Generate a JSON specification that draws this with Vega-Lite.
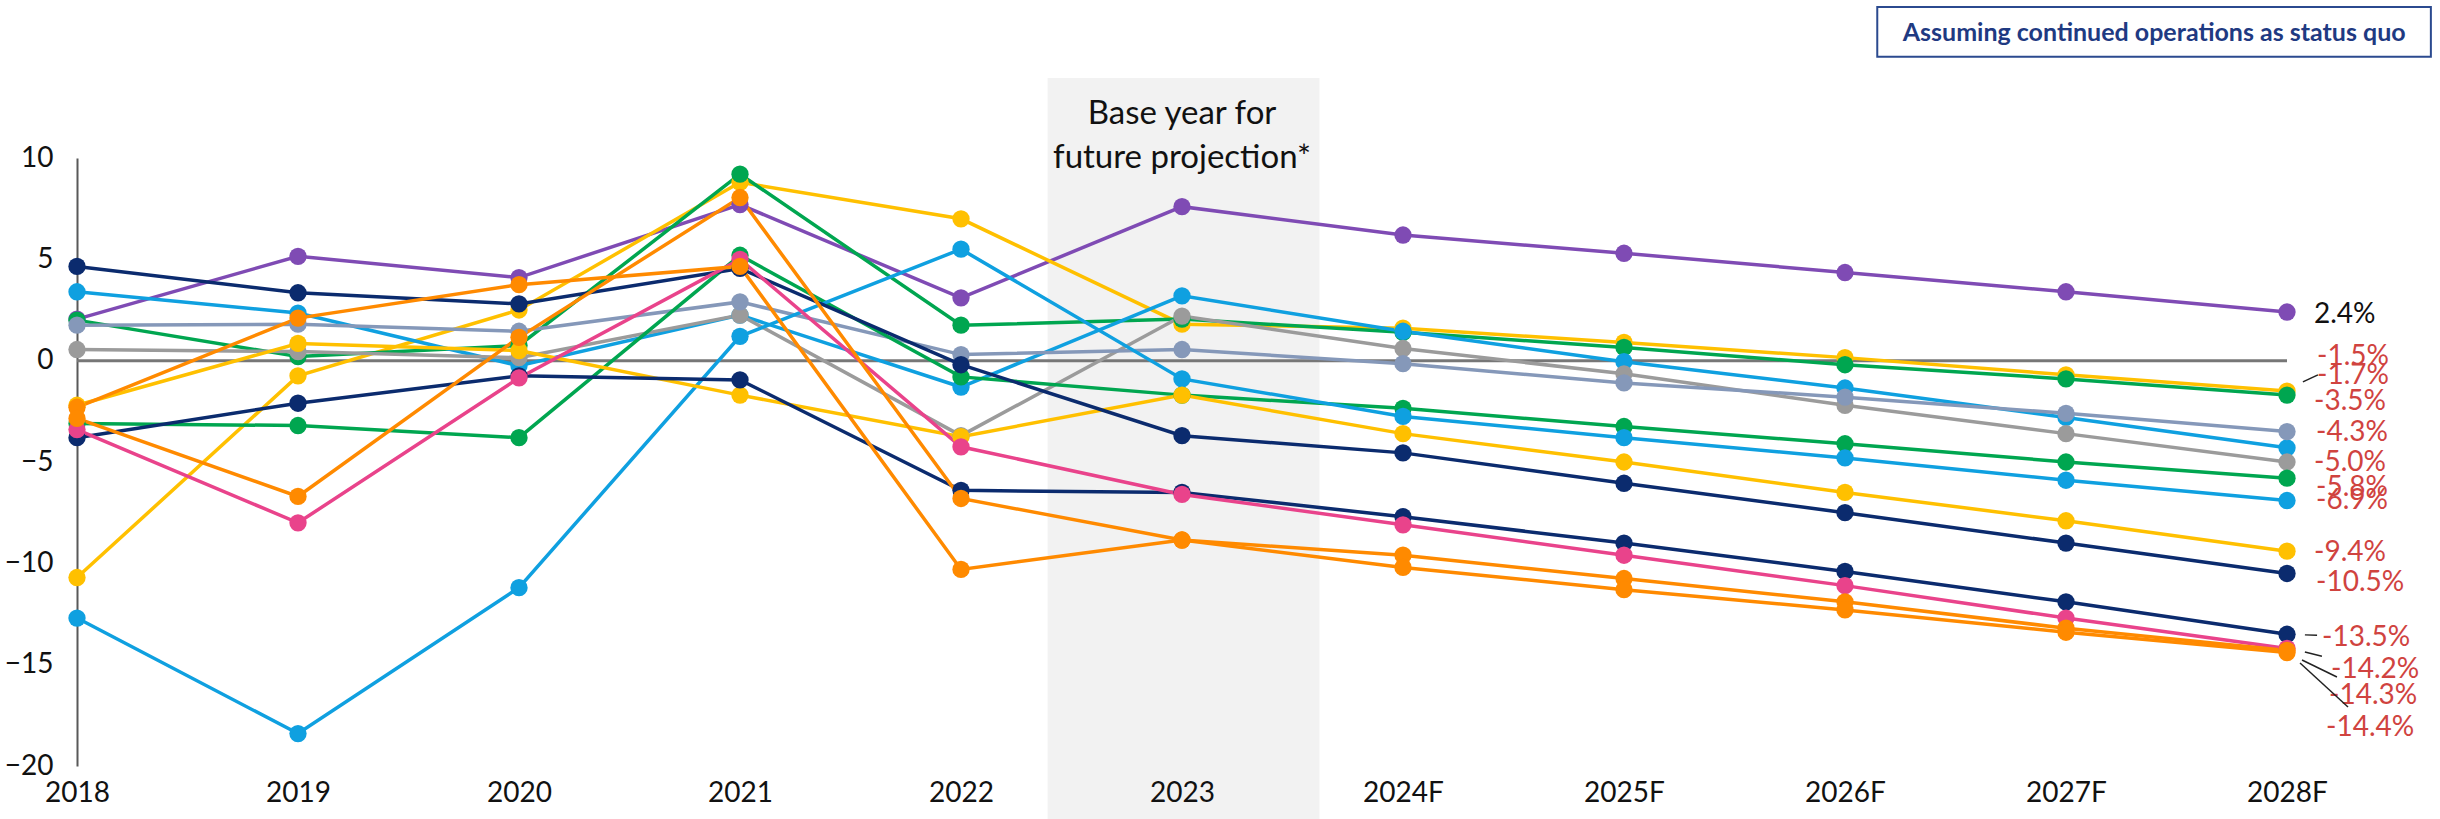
{
  "$schema": "https://vega.github.io/schema/vega-lite/v6.json",
  "autosize": {"type": "none"},
  "width": 2210,
  "height": 608,
  "padding": {"left": 77, "top": 158, "right": 153, "bottom": 53},
  "background": "white",
  "config": {"view": {"stroke": null}, "font": "Lato"},
  "datasets": {
    "series": [
      {"series":"S1","year":2018,"value":2.05},{"series":"S1","year":2019,"value":5.15},{"series":"S1","year":2020,"value":4.1},{"series":"S1","year":2021,"value":7.7},{"series":"S1","year":2022,"value":3.1},{"series":"S1","year":2023,"value":7.6},{"series":"S1","year":2024,"value":6.2},{"series":"S1","year":2025,"value":5.3},{"series":"S1","year":2026,"value":4.35},{"series":"S1","year":2027,"value":3.4},{"series":"S1","year":2028,"value":2.4},
      {"series":"S2","year":2018,"value":-10.7},{"series":"S2","year":2019,"value":-0.75},{"series":"S2","year":2020,"value":2.5},{"series":"S2","year":2021,"value":8.8},{"series":"S2","year":2022,"value":7.0},{"series":"S2","year":2023,"value":1.8},{"series":"S2","year":2024,"value":1.6},{"series":"S2","year":2025,"value":0.9},{"series":"S2","year":2026,"value":0.15},{"series":"S2","year":2027,"value":-0.7},{"series":"S2","year":2028,"value":-1.5},
      {"series":"S3","year":2018,"value":2.0},{"series":"S3","year":2019,"value":0.2},{"series":"S3","year":2020,"value":0.75},{"series":"S3","year":2021,"value":9.2},{"series":"S3","year":2022,"value":1.75},{"series":"S3","year":2023,"value":2.05},{"series":"S3","year":2024,"value":1.4},{"series":"S3","year":2025,"value":0.65},{"series":"S3","year":2026,"value":-0.2},{"series":"S3","year":2027,"value":-0.9},{"series":"S3","year":2028,"value":-1.7},
      {"series":"S4","year":2018,"value":3.4},{"series":"S4","year":2019,"value":2.35},{"series":"S4","year":2020,"value":-0.25},{"series":"S4","year":2021,"value":2.25},{"series":"S4","year":2022,"value":-1.3},{"series":"S4","year":2023,"value":3.2},{"series":"S4","year":2024,"value":1.45},{"series":"S4","year":2025,"value":-0.05},{"series":"S4","year":2026,"value":-1.35},{"series":"S4","year":2027,"value":-2.8},{"series":"S4","year":2028,"value":-4.3},
      {"series":"S5","year":2018,"value":0.55},{"series":"S5","year":2019,"value":0.45},{"series":"S5","year":2020,"value":0.15},{"series":"S5","year":2021,"value":2.25},{"series":"S5","year":2022,"value":-3.7},{"series":"S5","year":2023,"value":2.2},{"series":"S5","year":2024,"value":0.6},{"series":"S5","year":2025,"value":-0.65},{"series":"S5","year":2026,"value":-2.2},{"series":"S5","year":2027,"value":-3.6},{"series":"S5","year":2028,"value":-5.0},
      {"series":"S6","year":2018,"value":1.75},{"series":"S6","year":2019,"value":1.8},{"series":"S6","year":2020,"value":1.45},{"series":"S6","year":2021,"value":2.9},{"series":"S6","year":2022,"value":0.3},{"series":"S6","year":2023,"value":0.55},{"series":"S6","year":2024,"value":-0.15},{"series":"S6","year":2025,"value":-1.1},{"series":"S6","year":2026,"value":-1.8},{"series":"S6","year":2027,"value":-2.6},{"series":"S6","year":2028,"value":-3.5},
      {"series":"S7","year":2018,"value":-3.1},{"series":"S7","year":2019,"value":-3.2},{"series":"S7","year":2020,"value":-3.8},{"series":"S7","year":2021,"value":5.2},{"series":"S7","year":2022,"value":-0.8},{"series":"S7","year":2023,"value":-1.7},{"series":"S7","year":2024,"value":-2.35},{"series":"S7","year":2025,"value":-3.25},{"series":"S7","year":2026,"value":-4.1},{"series":"S7","year":2027,"value":-5.0},{"series":"S7","year":2028,"value":-5.8},
      {"series":"S8","year":2018,"value":-12.7},{"series":"S8","year":2019,"value":-18.4},{"series":"S8","year":2020,"value":-11.2},{"series":"S8","year":2021,"value":1.2},{"series":"S8","year":2022,"value":5.5},{"series":"S8","year":2023,"value":-0.9},{"series":"S8","year":2024,"value":-2.75},{"series":"S8","year":2025,"value":-3.8},{"series":"S8","year":2026,"value":-4.8},{"series":"S8","year":2027,"value":-5.9},{"series":"S8","year":2028,"value":-6.9},
      {"series":"S9","year":2018,"value":-2.2},{"series":"S9","year":2019,"value":0.85},{"series":"S9","year":2020,"value":0.5},{"series":"S9","year":2021,"value":-1.7},{"series":"S9","year":2022,"value":-3.75},{"series":"S9","year":2023,"value":-1.7},{"series":"S9","year":2024,"value":-3.6},{"series":"S9","year":2025,"value":-5.0},{"series":"S9","year":2026,"value":-6.5},{"series":"S9","year":2027,"value":-7.9},{"series":"S9","year":2028,"value":-9.4},
      {"series":"S10","year":2018,"value":4.65},{"series":"S10","year":2019,"value":3.35},{"series":"S10","year":2020,"value":2.8},{"series":"S10","year":2021,"value":4.55},{"series":"S10","year":2022,"value":-0.2},{"series":"S10","year":2023,"value":-3.7},{"series":"S10","year":2024,"value":-4.55},{"series":"S10","year":2025,"value":-6.05},{"series":"S10","year":2026,"value":-7.5},{"series":"S10","year":2027,"value":-9.0},{"series":"S10","year":2028,"value":-10.5},
      {"series":"S11","year":2018,"value":-3.8},{"series":"S11","year":2019,"value":-2.1},{"series":"S11","year":2020,"value":-0.75},{"series":"S11","year":2021,"value":-0.95},{"series":"S11","year":2022,"value":-6.4},{"series":"S11","year":2023,"value":-6.5},{"series":"S11","year":2024,"value":-7.7},{"series":"S11","year":2025,"value":-9.0},{"series":"S11","year":2026,"value":-10.4},{"series":"S11","year":2027,"value":-11.9},{"series":"S11","year":2028,"value":-13.5},
      {"series":"S12","year":2018,"value":-3.4},{"series":"S12","year":2019,"value":-8.0},{"series":"S12","year":2020,"value":-0.85},{"series":"S12","year":2021,"value":5.0},{"series":"S12","year":2022,"value":-4.25},{"series":"S12","year":2023,"value":-6.6},{"series":"S12","year":2024,"value":-8.1},{"series":"S12","year":2025,"value":-9.6},{"series":"S12","year":2026,"value":-11.1},{"series":"S12","year":2027,"value":-12.7},{"series":"S12","year":2028,"value":-14.2},
      {"series":"S13","year":2018,"value":-2.3},{"series":"S13","year":2019,"value":2.1},{"series":"S13","year":2020,"value":3.75},{"series":"S13","year":2021,"value":4.65},{"series":"S13","year":2022,"value":-10.3},{"series":"S13","year":2023,"value":-8.85},{"series":"S13","year":2024,"value":-9.6},{"series":"S13","year":2025,"value":-10.75},{"series":"S13","year":2026,"value":-11.9},{"series":"S13","year":2027,"value":-13.2},{"series":"S13","year":2028,"value":-14.3},
      {"series":"S14","year":2018,"value":-2.85},{"series":"S14","year":2019,"value":-6.7},{"series":"S14","year":2020,"value":1.15},{"series":"S14","year":2021,"value":8.05},{"series":"S14","year":2022,"value":-6.8},{"series":"S14","year":2023,"value":-8.85},{"series":"S14","year":2024,"value":-10.2},{"series":"S14","year":2025,"value":-11.3},{"series":"S14","year":2026,"value":-12.3},{"series":"S14","year":2027,"value":-13.4},{"series":"S14","year":2028,"value":-14.4}
    ],
    "labels": [
      {"series":"S1","value":2.4,"label":"2.4%"},
      {"series":"S2","value":-1.5,"label":"-1.5%"},
      {"series":"S3","value":-1.7,"label":"-1.7%"},
      {"series":"S6","value":-3.5,"label":"-3.5%"},
      {"series":"S4","value":-4.3,"label":"-4.3%"},
      {"series":"S5","value":-5.0,"label":"-5.0%"},
      {"series":"S7","value":-5.8,"label":"-5.8%"},
      {"series":"S8","value":-6.9,"label":"-6.9%"},
      {"series":"S9","value":-9.4,"label":"-9.4%"},
      {"series":"S10","value":-10.5,"label":"-10.5%"},
      {"series":"S11","value":-13.5,"label":"-13.5%"},
      {"series":"S12","value":-14.2,"label":"-14.2%"},
      {"series":"S13","value":-14.3,"label":"-14.3%"},
      {"series":"S14","value":-14.4,"label":"-14.4%"}
    ]
  },
  "layer": [
    {
      "data": {"values": [{}]},
      "mark": {"type": "rect", "color": "#F2F2F2"},
      "encoding": {
        "x": {"datum": 2022.392, "type": "quantitative", "scale": {"domain": [2018, 2028], "nice": false, "zero": false}},
        "x2": {"datum": 2023.622},
        "y": {"datum": 13.95, "type": "quantitative", "scale": {"domain": [-20, 10], "nice": false, "zero": false}},
        "y2": {"datum": -23}
      }
    },
    {
      "data": {"values": [{}]},
      "mark": {"type": "text", "text": ["Base year for", "future projection*"], "align": "center", "baseline": "middle", "fontSize": 33, "lineHeight": 44, "font": "Lato", "color": "#111111"},
      "encoding": {"x": {"datum": 2023}, "y": {"datum": 12.15}}
    },
    {
      "data": {"values": [{}]},
      "mark": {"type": "rule", "color": "#777777", "strokeWidth": 3},
      "encoding": {"x": {"datum": 2018}, "x2": {"datum": 2028}, "y": {"datum": 0}}
    },
    {
      "data": {"name": "series"},
      "mark": {"type": "line", "strokeWidth": 3.5},
      "encoding": {
        "x": {"field": "year", "type": "quantitative",
          "axis": {"values": [2018,2019,2020,2021,2022,2023,2024,2025,2026,2027,2028], "labelExpr": "datum.value >= 2024 ? datum.value + 'F' : '' + datum.value", "title": null, "domain": false, "ticks": false, "grid": false, "labelFontSize": 28, "labelFont": "Lato", "labelColor": "#111111", "labelPadding": 13, "labelFlush": false, "labelOverlap": false, "zindex": 1}},
        "y": {"field": "value", "type": "quantitative",
          "axis": {"values": [-20,-15,-10,-5,0,5,10], "title": null, "domain": true, "domainColor": "#595959", "domainWidth": 2, "ticks": false, "grid": false, "labelFontSize": 28, "labelFont": "Lato", "labelColor": "#111111", "labelPadding": 24}},
        "color": {"field": "series", "type": "nominal", "legend": null,
          "scale": {"domain": ["S1","S2","S3","S4","S5","S6","S7","S8","S9","S10","S11","S12","S13","S14"],
                    "range": ["#7F4BB4","#FFC000","#00A650","#0FA0E0","#9B9B9B","#8598B9","#00A650","#0FA0E0","#FFC000","#0B2B6E","#0B2B6E","#E9438B","#FF8A00","#FF8A00"]}}
      }
    },
    {
      "data": {"name": "series"},
      "mark": {"type": "circle", "size": 300, "opacity": 1},
      "encoding": {
        "x": {"field": "year", "type": "quantitative"},
        "y": {"field": "value", "type": "quantitative"},
        "color": {"field": "series", "type": "nominal", "legend": null}
      }
    },
    {"data": {"name": "labels"}, "transform": [{"filter": "datum.series === 'S1'"}], "mark": {"type": "text", "align": "left", "baseline": "middle", "dx": 27, "dy": 3, "fontSize": 28, "font": "Lato", "color": "#111111"}, "encoding": {"x": {"datum": 2028}, "y": {"field": "value", "type": "quantitative"}, "text": {"field": "label"}}},
    {"data": {"name": "labels"}, "transform": [{"filter": "datum.series === 'S2'"}], "mark": {"type": "text", "align": "left", "baseline": "middle", "dx": 30, "dy": -34, "fontSize": 28, "font": "Lato", "color": "#D0433F"}, "encoding": {"x": {"datum": 2028}, "y": {"field": "value", "type": "quantitative"}, "text": {"field": "label"}}},
    {"data": {"name": "labels"}, "transform": [{"filter": "datum.series === 'S3'"}], "mark": {"type": "text", "align": "left", "baseline": "middle", "dx": 30, "dy": -19, "fontSize": 28, "font": "Lato", "color": "#D0433F"}, "encoding": {"x": {"datum": 2028}, "y": {"field": "value", "type": "quantitative"}, "text": {"field": "label"}}},
    {"data": {"name": "labels"}, "transform": [{"filter": "datum.series === 'S6'"}], "mark": {"type": "text", "align": "left", "baseline": "middle", "dx": 27, "dy": -30, "fontSize": 28, "font": "Lato", "color": "#D0433F"}, "encoding": {"x": {"datum": 2028}, "y": {"field": "value", "type": "quantitative"}, "text": {"field": "label"}}},
    {"data": {"name": "labels"}, "transform": [{"filter": "datum.series === 'S4'"}], "mark": {"type": "text", "align": "left", "baseline": "middle", "dx": 29, "dy": -15, "fontSize": 28, "font": "Lato", "color": "#D0433F"}, "encoding": {"x": {"datum": 2028}, "y": {"field": "value", "type": "quantitative"}, "text": {"field": "label"}}},
    {"data": {"name": "labels"}, "transform": [{"filter": "datum.series === 'S5'"}], "mark": {"type": "text", "align": "left", "baseline": "middle", "dx": 27, "dy": 1, "fontSize": 28, "font": "Lato", "color": "#D0433F"}, "encoding": {"x": {"datum": 2028}, "y": {"field": "value", "type": "quantitative"}, "text": {"field": "label"}}},
    {"data": {"name": "labels"}, "transform": [{"filter": "datum.series === 'S7'"}], "mark": {"type": "text", "align": "left", "baseline": "middle", "dx": 29, "dy": 10, "fontSize": 28, "font": "Lato", "color": "#D0433F"}, "encoding": {"x": {"datum": 2028}, "y": {"field": "value", "type": "quantitative"}, "text": {"field": "label"}}},
    {"data": {"name": "labels"}, "transform": [{"filter": "datum.series === 'S8'"}], "mark": {"type": "text", "align": "left", "baseline": "middle", "dx": 29, "dy": 0, "fontSize": 28, "font": "Lato", "color": "#D0433F"}, "encoding": {"x": {"datum": 2028}, "y": {"field": "value", "type": "quantitative"}, "text": {"field": "label"}}},
    {"data": {"name": "labels"}, "transform": [{"filter": "datum.series === 'S9'"}], "mark": {"type": "text", "align": "left", "baseline": "middle", "dx": 27, "dy": 2, "fontSize": 28, "font": "Lato", "color": "#D0433F"}, "encoding": {"x": {"datum": 2028}, "y": {"field": "value", "type": "quantitative"}, "text": {"field": "label"}}},
    {"data": {"name": "labels"}, "transform": [{"filter": "datum.series === 'S10'"}], "mark": {"type": "text", "align": "left", "baseline": "middle", "dx": 29, "dy": 10, "fontSize": 28, "font": "Lato", "color": "#D0433F"}, "encoding": {"x": {"datum": 2028}, "y": {"field": "value", "type": "quantitative"}, "text": {"field": "label"}}},
    {"data": {"name": "labels"}, "transform": [{"filter": "datum.series === 'S11'"}], "mark": {"type": "text", "align": "left", "baseline": "middle", "dx": 35, "dy": 4, "fontSize": 28, "font": "Lato", "color": "#D0433F"}, "encoding": {"x": {"datum": 2028}, "y": {"field": "value", "type": "quantitative"}, "text": {"field": "label"}}},
    {"data": {"name": "labels"}, "transform": [{"filter": "datum.series === 'S12'"}], "mark": {"type": "text", "align": "left", "baseline": "middle", "dx": 44, "dy": 22, "fontSize": 28, "font": "Lato", "color": "#D0433F"}, "encoding": {"x": {"datum": 2028}, "y": {"field": "value", "type": "quantitative"}, "text": {"field": "label"}}},
    {"data": {"name": "labels"}, "transform": [{"filter": "datum.series === 'S13'"}], "mark": {"type": "text", "align": "left", "baseline": "middle", "dx": 42, "dy": 46, "fontSize": 28, "font": "Lato", "color": "#D0433F"}, "encoding": {"x": {"datum": 2028}, "y": {"field": "value", "type": "quantitative"}, "text": {"field": "label"}}},
    {"data": {"name": "labels"}, "transform": [{"filter": "datum.series === 'S14'"}], "mark": {"type": "text", "align": "left", "baseline": "middle", "dx": 39, "dy": 75, "fontSize": 28, "font": "Lato", "color": "#D0433F"}, "encoding": {"x": {"datum": 2028}, "y": {"field": "value", "type": "quantitative"}, "text": {"field": "label"}}},
    {"data": {"values": [{}]}, "mark": {"type": "rule", "color": "#222222", "strokeWidth": 1.5}, "encoding": {"x": {"datum": 2028.072}, "x2": {"datum": 2028.14}, "y": {"datum": -1.05}, "y2": {"datum": -0.7}}},
    {"data": {"values": [{}]}, "mark": {"type": "rule", "color": "#222222", "strokeWidth": 1.5}, "encoding": {"x": {"datum": 2028.081}, "x2": {"datum": 2028.136}, "y": {"datum": -13.53}, "y2": {"datum": -13.55}}},
    {"data": {"values": [{}]}, "mark": {"type": "rule", "color": "#222222", "strokeWidth": 1.5}, "encoding": {"x": {"datum": 2028.081}, "x2": {"datum": 2028.158}, "y": {"datum": -14.38}, "y2": {"datum": -14.58}}},
    {"data": {"values": [{}]}, "mark": {"type": "rule", "color": "#222222", "strokeWidth": 1.5}, "encoding": {"x": {"datum": 2028.068}, "x2": {"datum": 2028.226}, "y": {"datum": -14.77}, "y2": {"datum": -15.61}}},
    {"data": {"values": [{}]}, "mark": {"type": "rule", "color": "#222222", "strokeWidth": 1.5}, "encoding": {"x": {"datum": 2028.059}, "x2": {"datum": 2028.276}, "y": {"datum": -14.92}, "y2": {"datum": -17.09}}},
    {
      "data": {"values": [{}]},
      "mark": {"type": "rect", "fill": "white", "stroke": "#2B4A8F", "strokeWidth": 2},
      "encoding": {"x": {"datum": 2026.146}, "x2": {"datum": 2028.651}, "y": {"datum": 17.45}, "y2": {"datum": 14.99}}
    },
    {
      "data": {"values": [{}]},
      "mark": {"type": "text", "text": "Assuming continued operations as status quo", "align": "center", "baseline": "middle", "fontSize": 25, "fontWeight": "bold", "font": "Lato", "color": "#1F3A82"},
      "encoding": {"x": {"datum": 2027.399}, "y": {"datum": 16.17}}
    }
  ]
}
